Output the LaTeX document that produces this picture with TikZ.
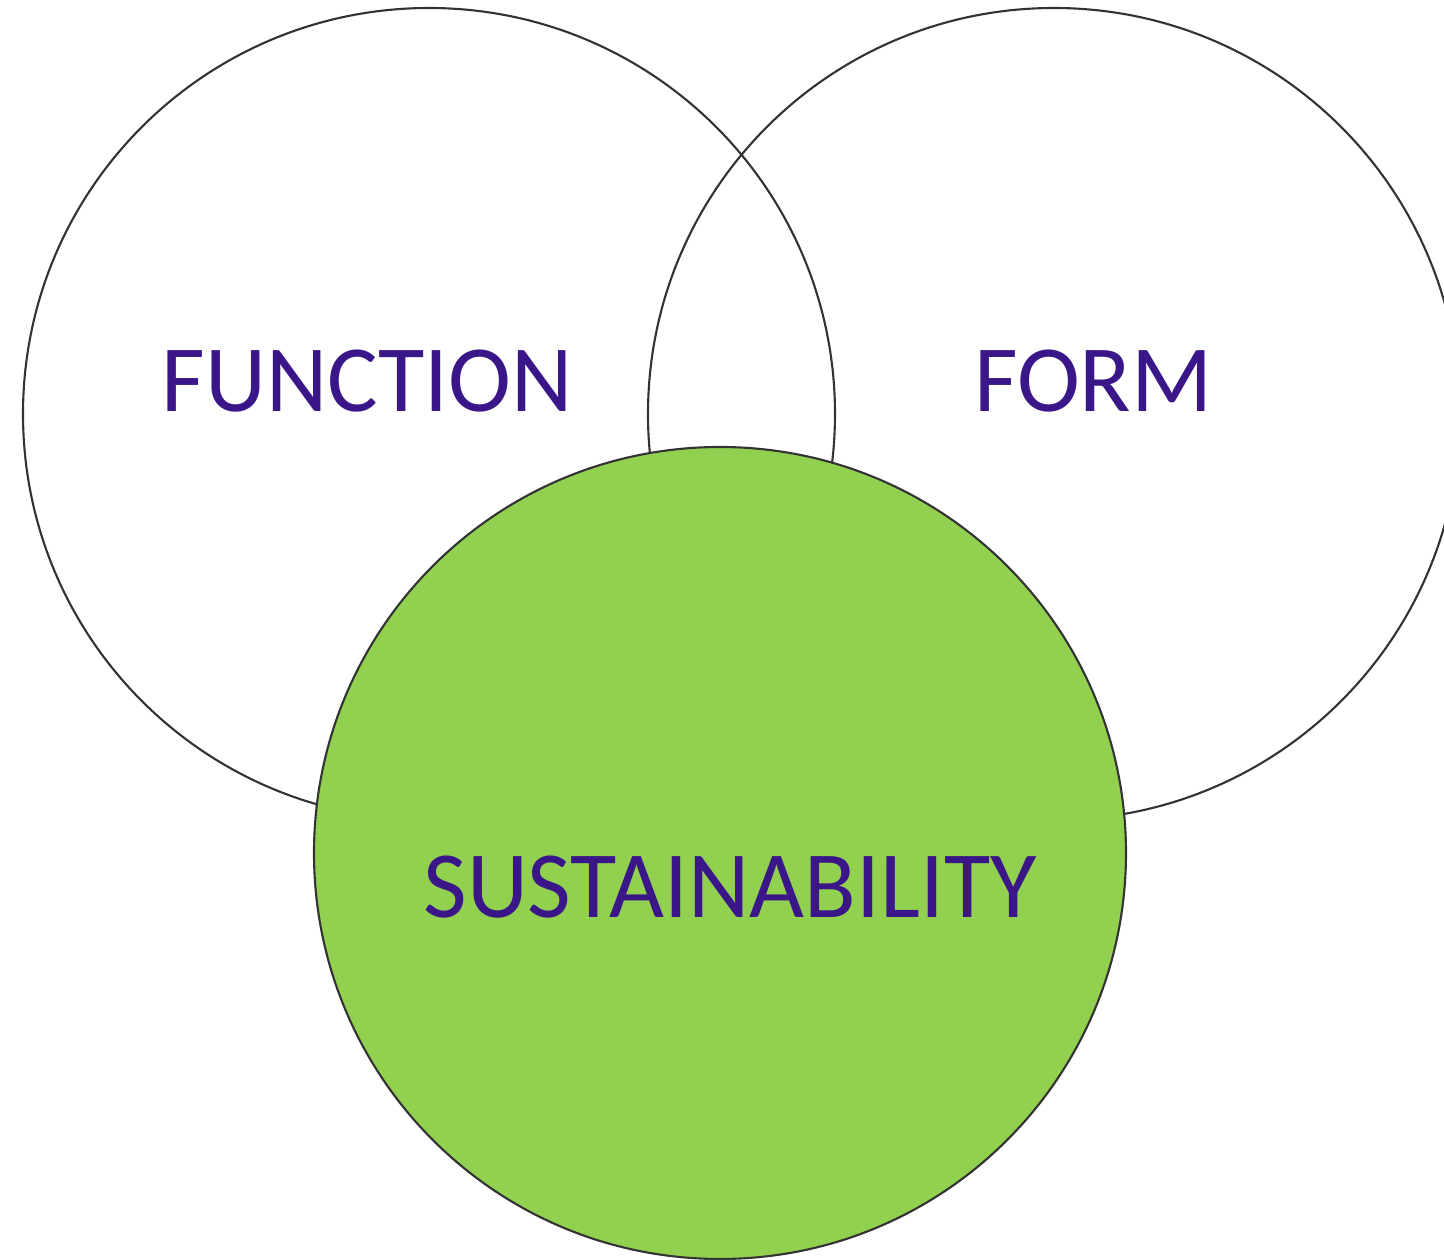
\documentclass[tikz,border=0pt]{standalone}
\usepackage{fontspec}
\setmainfont{Carlito}
\usetikzlibrary{positioning}
\definecolor{leafgreen}{HTML}{92D050}
\definecolor{dkpurple}{HTML}{3A1689}
\definecolor{rimgray}{HTML}{333333}

\tikzset{
  ring/.style={circle, draw=rimgray, line width=1.2pt, minimum size=16.24cm, inner sep=0pt},
  word/.style={text=dkpurple, font=\fontsize{54}{65}\selectfont, inner sep=0pt}
}

\begin{document}
\begin{tikzpicture}

% Frame
\useasboundingbox (0,0) rectangle (28.88,25.2);
\clip (0,0) rectangle (28.88,25.2);
\fill[white] (0,0) rectangle (28.88,25.2);

% Upper circles
\node[ring, fill=white] (function) at (8.58,16.92) {};
\node[ring] (form) at (21.08,16.92) {};

% Lower circle sits on top
\node[ring, fill=leafgreen] (sustain) at (14.40,8.14) {};

% Labels
\node[word] (functionlbl) at (7.35,17.58) {FUNCTION};
\node[word] (formlbl) at (21.87,17.58) {FORM};
\node[word] (sustainlbl) at (14.60,7.46) {SUSTAINABILITY};

\end{tikzpicture}
\end{document}
